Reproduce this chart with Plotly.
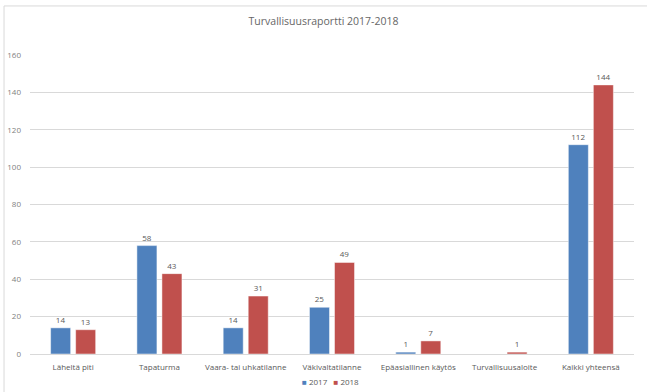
import plotly.graph_objects as go

categories = ["Läheltä piti", "Tapaturma", "Vaara- tai uhkatilanne", "Väkivaltatilanne",
              "Epäasiallinen käytös", "Turvallisuusaloite", "Kaikki yhteensä"]
values_2017 = [14, 58, 14, 25, 1, None, 112]
values_2018 = [13, 43, 31, 49, 7, 1, 144]
series_names = ["2017", "2018"]
colors = ["#4F81BD", "#C0504D"]

FONT = "Open Sans, Liberation Sans, sans-serif"
GREY = "#595959"

fig = go.Figure()
for name, vals, col in zip(series_names, [values_2017, values_2018], colors):
    fig.add_trace(go.Bar(
        x=categories, y=vals, name=name,
        marker=dict(color=col, line=dict(color="rgba(255,255,255,0.6)", width=0.8)),
        text=[("" if v is None else str(v)) for v in vals],
        textposition="outside",
        textfont=dict(size=8, color=GREY, family=FONT),
        cliponaxis=False,
        showlegend=False,
    ))

legend_text = "   ".join(
    f"<span style='color:{c}'>■</span> {n}" for n, c in zip(series_names, colors)
)

fig.update_layout(
    width=647, height=392,
    margin=dict(l=30, r=13, t=55, b=38, autoexpand=False),
    paper_bgcolor="white", plot_bgcolor="white",
    barmode="group", bargap=0.42, bargroupgap=0.2,
    font=dict(family=FONT, size=8, color=GREY),
    title=dict(text="Turvallisuusraportti 2017-2018", x=0.5, xanchor="center",
               y=1 - 21/392, yanchor="middle", yref="container",
               font=dict(size=10.5, color="#666666", family=FONT)),
    showlegend=False,
    annotations=[dict(text=legend_text, xref="paper", yref="paper",
                      x=(330 - 30) / 604, y=(354 - 381) / 299,
                      xanchor="center", yanchor="middle", showarrow=False,
                      font=dict(size=8, color=GREY, family=FONT))],
    xaxis=dict(showgrid=False, showline=True, linecolor="#d9d9d9", linewidth=1,
               ticks="", tickfont=dict(size=8, color=GREY), automargin=False,
               ticklabelstandoff=5),
    yaxis=dict(range=[0, 160], dtick=20, showgrid=True, gridcolor="#d9d9d9", gridwidth=1,
               zeroline=False, showline=False, ticks="", ticklabelstandoff=8,
               tickfont=dict(size=8, color="#7f7f7f"), automargin=False),
    shapes=[dict(type="rect", xref="paper", yref="paper",
                 x0=-0.043, x1=1.08, y0=-0.5, y1=1.164,
                 line=dict(color="#d9d9d9", width=1), fillcolor="rgba(0,0,0,0)", layer="below")],
)

fig.write_html("out.html")
